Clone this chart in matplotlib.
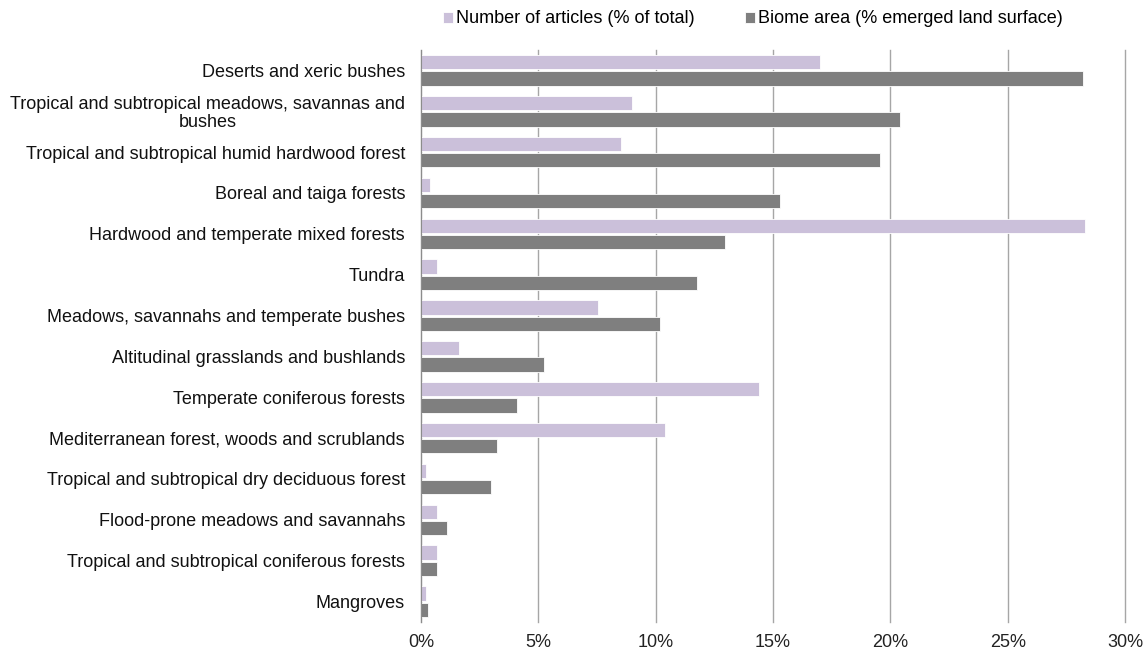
import matplotlib.pyplot as plt
import numpy as np
from matplotlib.ticker import FuncFormatter, MultipleLocator

plt.rcParams["font.family"] = ["Liberation Sans", "DejaVu Sans"]

# Biomes, top to bottom as in the chart
biomes = [
    "Deserts and xeric bushes",
    "Tropical and subtropical meadows, savannas and\nbushes",
    "Tropical and subtropical humid hardwood forest",
    "Boreal and taiga forests",
    "Hardwood and temperate mixed forests",
    "Tundra",
    "Meadows, savannahs and temperate bushes",
    "Altitudinal grasslands and bushlands",
    "Temperate coniferous forests",
    "Mediterranean forest, woods and scrublands",
    "Tropical and subtropical dry deciduous forest",
    "Flood-prone meadows and savannahs",
    "Tropical and subtropical coniferous forests",
    "Mangroves",
]
articles_pct = [17.0, 9.0, 8.5, 0.4, 28.3, 0.7, 7.55, 1.6, 14.4, 10.4, 0.2, 0.7, 0.7, 0.2]
area_pct = [28.2, 20.4, 19.55, 15.3, 12.95, 11.75, 10.2, 5.25, 4.1, 3.25, 3.0, 1.1, 0.7, 0.3]

fig = plt.figure(figsize=(11.46, 6.55), dpi=100)
ax = fig.add_axes([0.3674, 0.0504, 0.6143, 0.8733])

y = np.arange(len(biomes))
h = 0.35
ax.barh(y - 0.2, articles_pct, height=h, color="#cbc0da", edgecolor="white",
        linewidth=0.6, label="Number of articles (% of total)", zorder=3)
ax.barh(y + 0.2, area_pct, height=h, color="#7f7f7f", edgecolor="white",
        linewidth=0.6, label="Biome area (% emerged land surface)", zorder=3)

ax.set_ylim(len(biomes) - 0.5, -0.5)
ax.set_xlim(0, 30)
ax.set_yticks(y)
ax.set_yticklabels(biomes, fontsize=13)
for t in ax.get_yticklabels():
    t.set_multialignment("center")
    t.set_linespacing(1.05)
ax.xaxis.set_major_locator(MultipleLocator(5))
ax.xaxis.set_major_formatter(FuncFormatter(lambda v, p: f"{v:.0f}%"))
ax.tick_params(axis="x", labelsize=13, length=0, pad=9, colors="#222222")
ax.tick_params(axis="y", length=0, pad=11.5, colors="#111111")

ax.grid(axis="x", color="#a6a6a6", linewidth=1.0, zorder=0)
for gl in ax.get_xgridlines():
    gl.set_clip_on(False)
for s in ["top", "right", "bottom"]:
    ax.spines[s].set_visible(False)
ax.spines["left"].set_color("#8c8c8c")
ax.spines["left"].set_zorder(4)

fig.legend(loc="center", bbox_to_anchor=(0.657, 0.971), ncol=2, frameon=False,
           fontsize=13, handlelength=0.55, handleheight=0.55, handletextpad=0.15,
           columnspacing=2.8)

fig.savefig("out.png", dpi=100)
